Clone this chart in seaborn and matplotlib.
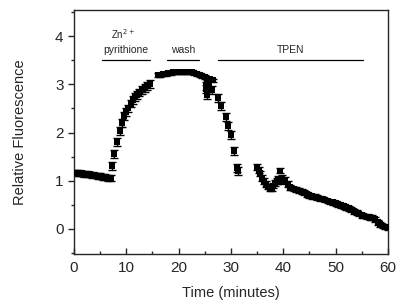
import numpy as np
import pandas as pd
import matplotlib
matplotlib.use('Agg')
import matplotlib.pyplot as plt
import seaborn as sns
from matplotlib.ticker import MultipleLocator

# Time points (minutes) and relative fluorescence
time_min = [0.0, 0.5, 1.0, 1.5, 2.0, 2.5, 3.0, 3.5, 4.0, 4.5, 5.0, 5.5, 6.0, 6.5, 7.0,
            7.3, 7.7, 8.3, 8.8, 9.2, 9.6, 10.0, 10.4, 10.8, 11.2, 11.6, 12.0, 12.5, 13.0, 13.5, 14.0, 14.5,
            16.0, 16.5, 17.0, 17.5, 18.0, 18.5, 19.0, 19.5, 20.0, 20.5, 21.0, 21.5, 22.0, 22.5, 23.0,
            23.5, 24.0, 24.5, 25.0, 25.5, 26.0, 26.5,
            25.2, 25.3, 25.4, 25.8, 26.3,
            27.5, 28.0, 29.0, 29.5, 30.0, 30.6, 31.1, 31.3,
            34.9, 35.3, 35.6, 36.0, 36.3, 36.7, 37.1, 37.5, 37.8, 38.1, 38.4, 38.7, 39.0, 39.4, 39.7,
            40.0, 40.4, 40.8, 41.3,
            41.5, 42.0, 42.5, 43.0, 43.5, 44.0, 44.5, 45.0, 45.5, 46.0, 46.5, 47.0, 47.5, 48.0, 48.5,
            49.0, 49.5, 50.0, 50.5, 51.0, 51.5, 52.0, 52.5, 53.0, 53.5, 54.0, 54.5, 55.0, 55.5, 56.0,
            56.5, 57.0, 57.5, 58.0, 58.5, 59.0, 59.5, 60.0]
fluor = [1.17, 1.16, 1.16, 1.15, 1.14, 1.14, 1.13, 1.12, 1.11, 1.10, 1.09, 1.08, 1.07, 1.06, 1.06,
         1.30, 1.56, 1.81, 2.03, 2.20, 2.34, 2.43, 2.50, 2.60, 2.67, 2.73, 2.78, 2.83, 2.88, 2.93, 2.96, 3.00,
         3.19, 3.20, 3.21, 3.22, 3.23, 3.24, 3.25, 3.25, 3.26, 3.26, 3.26, 3.26, 3.25, 3.25, 3.24,
         3.22, 3.20, 3.18, 3.15, 3.12, 3.10, 3.08,
         2.96, 2.90, 2.78, 2.98, 2.88,
         2.71, 2.55, 2.32, 2.13, 1.95, 1.62, 1.27, 1.20,
         1.29, 1.22, 1.15, 1.06, 1.00, 0.93, 0.88, 0.85, 0.84, 0.90, 0.95, 1.00, 1.03, 1.21, 1.05,
         0.99, 1.02, 0.93, 0.86,
         0.85, 0.83, 0.81, 0.79, 0.77, 0.75, 0.72, 0.70, 0.68, 0.67, 0.65, 0.63, 0.62, 0.60, 0.58,
         0.56, 0.55, 0.53, 0.51, 0.49, 0.47, 0.45, 0.43, 0.40, 0.37, 0.34, 0.31, 0.28, 0.27, 0.25,
         0.24, 0.23, 0.20, 0.14, 0.10, 0.06, 0.04, 0.03]
err = [0.06] * 15 + [0.08] * 17 + [0.04] * 22 + [0.08] * 5 + [0.08] * 8 + [0.06] * 19 + [0.05] * 38

# Treatment period labels and bars
periods = ['pyrithione', 'wash', 'TPEN']
period_start = [5.3, 17.8, 27.5]
period_end = [14.5, 23.9, 55.2]

df = pd.DataFrame({'time': time_min, 'fluor': fluor, 'err': err})

sns.set_style('ticks')
plt.rcParams['font.family'] = ['Liberation Sans', 'DejaVu Sans']

fig = plt.figure(figsize=(3.97, 3.05), dpi=100)
ax = fig.add_axes([0.1864, 0.1672, 0.7909, 0.7998])

ax.errorbar(df['time'], df['fluor'], yerr=df['err'], fmt='none', ecolor='black',
            elinewidth=1, capsize=3, capthick=1)
sns.scatterplot(data=df, x='time', y='fluor', marker='s', s=18, color='black',
                edgecolor='black', linewidth=0, ax=ax, zorder=3)

for lab, s, e in zip(periods, period_start, period_end):
    ax.plot([s, e], [3.5, 3.5], color='black', lw=0.9)
    ax.text((s + e) / 2, 3.6, lab, ha='center', va='bottom', fontsize=7.5)
ax.text(9.4, 4.05, 'Zn$^{2+}$', ha='center', va='center', fontsize=7)

ax.set_xlim(0, 60)
ax.set_ylim(-0.52, 4.54)
ax.xaxis.set_major_locator(MultipleLocator(10))
ax.xaxis.set_minor_locator(MultipleLocator(5))
ax.yaxis.set_major_locator(MultipleLocator(1))
ax.yaxis.set_minor_locator(MultipleLocator(0.5))
ax.tick_params(axis='x', which='both', direction='in', top=False, pad=5)
ax.tick_params(axis='y', which='both', direction='out', right=False)
ax.tick_params(which='major', length=4, width=1, labelsize=11)
ax.tick_params(which='minor', length=2.5, width=1)
for sp in ax.spines.values():
    sp.set_visible(True)
    sp.set_linewidth(1)
ax.set_xlabel('Time (minutes)', fontsize=10.5, labelpad=8)
ax.set_ylabel('Relative Fluorescence', fontsize=10.5, labelpad=20)

fig.savefig('out.png', dpi=100)
